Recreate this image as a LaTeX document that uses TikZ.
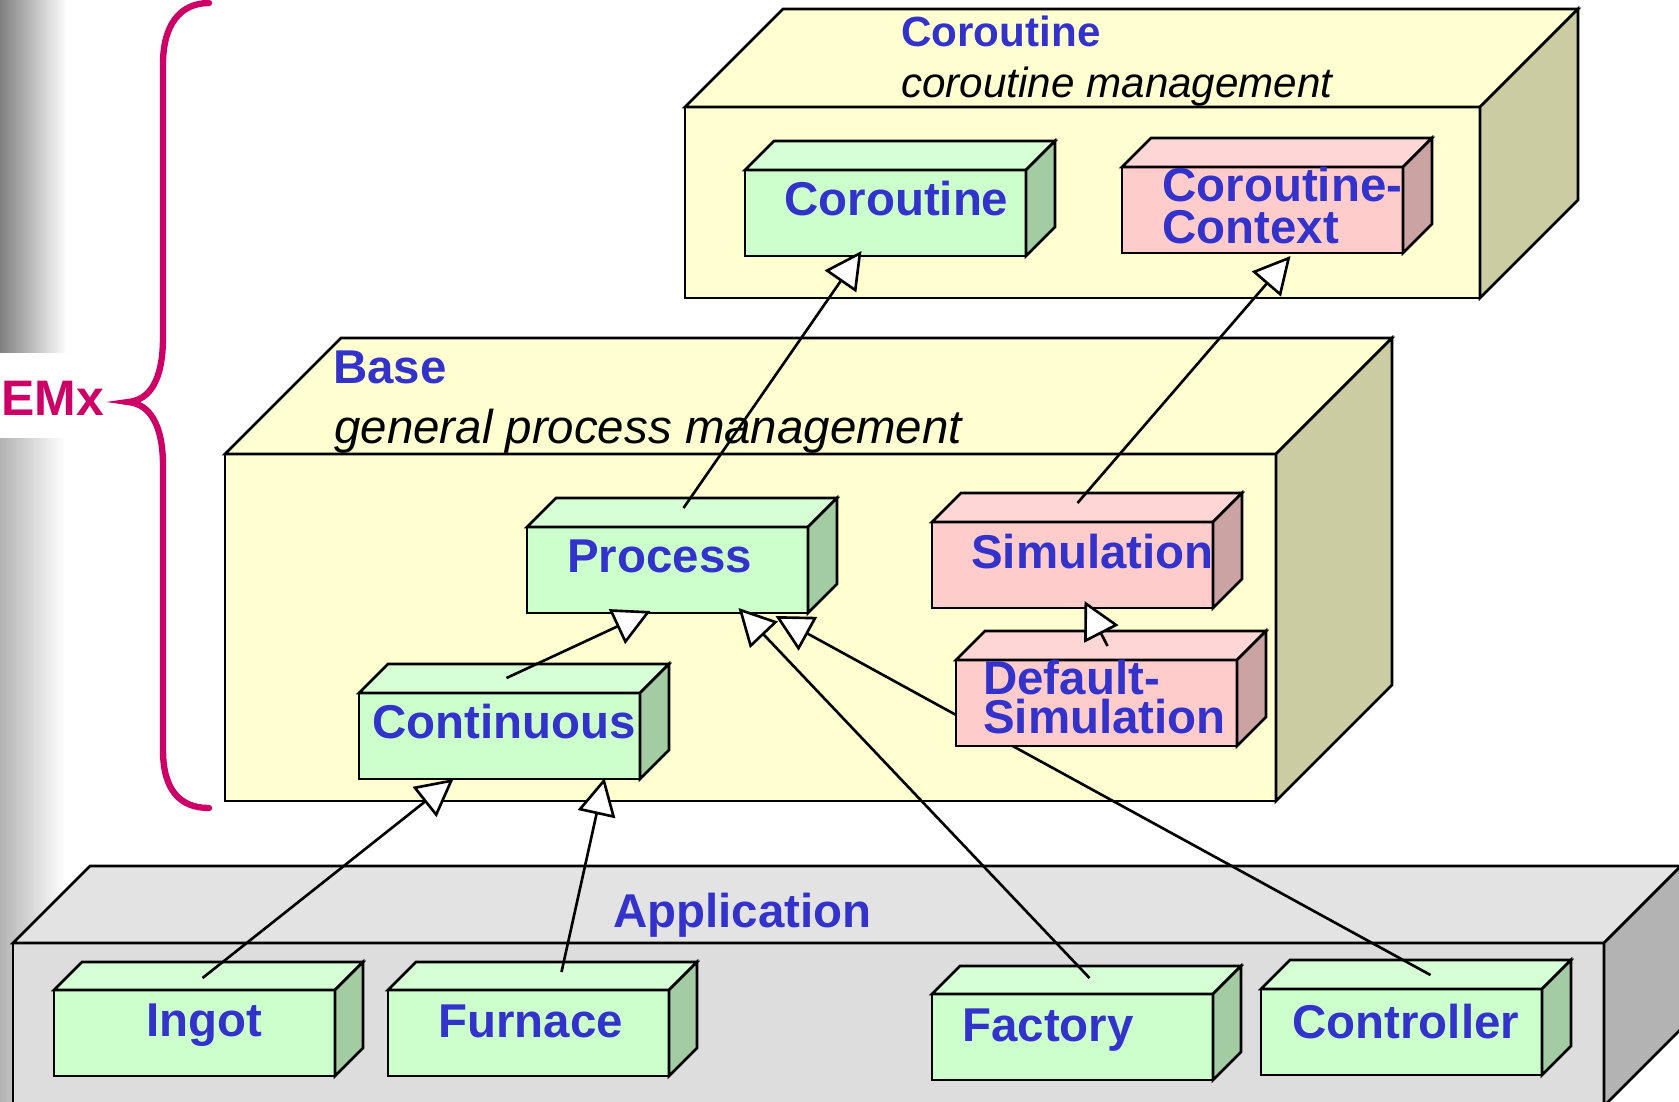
\documentclass[tikz,border=0pt]{standalone}
\usepackage{fontspec}
\setmainfont{Liberation Sans}
\usetikzlibrary{arrows.meta}

\definecolor{classgreen}{HTML}{CCFFCC}
\definecolor{classgreentop}{HTML}{D6FFD6}
\definecolor{classgreenside}{HTML}{A3CCA3}
\definecolor{classpink}{HTML}{FFCCCC}
\definecolor{classpinktop}{HTML}{FFD6D6}
\definecolor{classpinkside}{HTML}{CCA3A3}
\definecolor{pkgyellow}{HTML}{FFFFD2}
\definecolor{pkgyellowside}{HTML}{CCCCA3}
\definecolor{pkggray}{HTML}{DDDDDD}
\definecolor{pkggraytop}{HTML}{E3E3E3}
\definecolor{pkggrayside}{HTML}{B3B3B3}
\definecolor{labelblue}{HTML}{3333CC}
\definecolor{bracemagenta}{HTML}{CC0066}

\tikzset{
  classbox/.style={draw, minimum width=28.1mm, minimum height=8.6mm,
    inner sep=0pt, outer sep=0pt, anchor=north west},
  pkgbox/.style={draw, inner sep=0pt, outer sep=0pt, anchor=north west},
  classtext/.style={anchor=base west, inner sep=0pt, text=labelblue,
    font=\fontsize{13.5}{16}\selectfont\bfseries},
  pkgnote/.style={anchor=base west, inner sep=0pt,
    font=\fontsize{13.5}{16}\selectfont\itshape},
  inherits/.style={draw, -{Triangle[fill=white, length=3.7mm, width=3.8mm]}},
}

% 立体侧面：节点, 深度, 顶面颜色, 侧面颜色
\newcommand{\boxsides}[4]{%
  \filldraw[fill=#3] (#1.north west) -- ++(#2,-#2)
    -- ([shift={(#2,-#2)}]#1.north east) -- (#1.north east) -- cycle;
  \filldraw[fill=#4] (#1.north east) -- ++(#2,-#2)
    -- ([shift={(#2,-#2)}]#1.south east) -- (#1.south east) -- cycle;
}

\begin{document}
\begin{tikzpicture}[x=0.1mm, y=-0.1mm, line width=0.75pt]
    \clip (0,0) rectangle (1679,1101);

    % 背景
    \shade[left color=black!50, right color=white] (0,0) rectangle (67,352);
    \shade[left color=black!30, right color=white] (0,438) rectangle (65,1101);
    \node[anchor=base west, inner sep=0pt, text=bracemagenta,
      font=\fontsize{14.2}{17}\selectfont\bfseries] (emx) at (0,415) {EMx};
    \draw[bracemagenta, line width=1.8pt, line cap=round]
      (209,3) .. controls (180,3) and (163,25) .. (163,64) -- (163,337)
      .. controls (163,380) and (150,400) .. (128,402)
      .. controls (150,404) and (163,425) .. (163,466) -- (163,750)
      .. controls (163,790) and (180,808) .. (209,808);

    % 包
    \node[pkgbox, fill=pkgyellow, minimum width=79.5mm, minimum height=19.1mm] (corpkg) at (685,107) {};
    \boxsides{corpkg}{98}{pkgyellow}{pkgyellowside}
    \node[pkgbox, fill=pkgyellow, minimum width=105.1mm, minimum height=34.7mm] (basepkg) at (225,454) {};
    \boxsides{basepkg}{116}{pkgyellow}{pkgyellowside}
    \node[pkgbox, fill=pkggray, minimum width=159.1mm, minimum height=16.3mm] (apppkg) at (13,943) {};
    \boxsides{apppkg}{77}{pkggraytop}{pkggrayside}

    \node[classtext, font=\fontsize{12}{14}\selectfont\bfseries] (corpkg-title) at (900,46) {Coroutine};
    \node[pkgnote, font=\fontsize{12}{14}\selectfont\itshape] (corpkg-note) at (900,97) {coroutine management};
    \node[classtext] (basepkg-title) at (332,383) {Base};
    \node[pkgnote] (basepkg-note) at (333,443) {general process management};
    \node[classtext] (apppkg-title) at (612,927) {Application};

    % 类
    \node[classbox, fill=classgreen] (coroutine) at (745,170) {};
    \boxsides{coroutine}{29}{classgreentop}{classgreenside}
    \node[classbox, fill=classpink] (context) at (1122,167) {};
    \boxsides{context}{29}{classpinktop}{classpinkside}
    \node[classbox, fill=classgreen] (process) at (527,527) {};
    \boxsides{process}{29}{classgreentop}{classgreenside}
    \node[classbox, fill=classpink] (simulation) at (932,522) {};
    \boxsides{simulation}{29}{classpinktop}{classpinkside}
    \node[classbox, fill=classgreen] (continuous) at (359,693) {};
    \boxsides{continuous}{29}{classgreentop}{classgreenside}
    \node[classbox, fill=classgreen] (ingot) at (54,990) {};
    \boxsides{ingot}{28}{classgreentop}{classgreenside}
    \node[classbox, fill=classgreen] (furnace) at (388,990) {};
    \boxsides{furnace}{28}{classgreentop}{classgreenside}
    \node[classbox, fill=classgreen] (factory) at (932,994) {};
    \boxsides{factory}{28}{classgreentop}{classgreenside}
    \node[classbox, fill=classgreen] (controller) at (1261,989) {};
    \boxsides{controller}{29}{classgreentop}{classgreenside}

    \node[classtext] (coroutine-text) at (783,215) {Coroutine};
    \node[classtext, align=left, font=\fontsize{13.5}{11.7}\selectfont\bfseries] (context-text) at (1161,243) {Coroutine-\\Context};
    \node[classtext] (process-text) at (566,572) {Process};
    \node[classtext] (simulation-text) at (970,568) {Simulation};
    \node[classtext] (continuous-text) at (371,738) {Continuous};
    \node[classtext] (ingot-text) at (145,1036) {Ingot};
    \node[classtext] (furnace-text) at (437,1037) {Furnace};
    \node[classtext] (factory-text) at (961,1041) {Factory};
    \node[classtext] (controller-text) at (1291,1038) {Controller};

    % 被 Default-Simulation 挡住的连线
    \draw[inherits] ([shift={(29,-14)}]controller.north) -- ([shift={(108,3)}]process.south);

    \node[classbox, fill=classpink] (defaultsim) at (956,660) {};
    \boxsides{defaultsim}{29}{classpinktop}{classpinkside}
    \node[classtext, align=left, font=\fontsize{13.5}{9.4}\selectfont\bfseries] (defaultsim-text) at (982,733) {Default-\\Simulation};

    % 继承
    \draw[inherits] ([shift={(16,-19)}]process.north) -- ([shift={(-24,-5)}]coroutine.south);
    \draw[inherits] ([shift={(5,-19)}]simulation.north) -- ([shift={(28,3)}]context.south);
    \draw[inherits] ([shift={(7,-15)}]continuous.north) -- ([shift={(-17,-2)}]process.south);
    \draw[inherits] ([shift={(11,-14)}]defaultsim.north) -- ([shift={(12,-7)}]simulation.south);
    \draw[inherits] ([shift={(8,-12)}]ingot.north) -- ([shift={(-46,0)}]continuous.south);
    \draw[inherits] ([shift={(33,-18)}]furnace.north) -- ([shift={(105,-1)}]continuous.south);
    \draw[inherits] ([shift={(17,-16)}]factory.north) -- ([shift={(71,-5)}]process.south);
\end{tikzpicture}
\end{document}
